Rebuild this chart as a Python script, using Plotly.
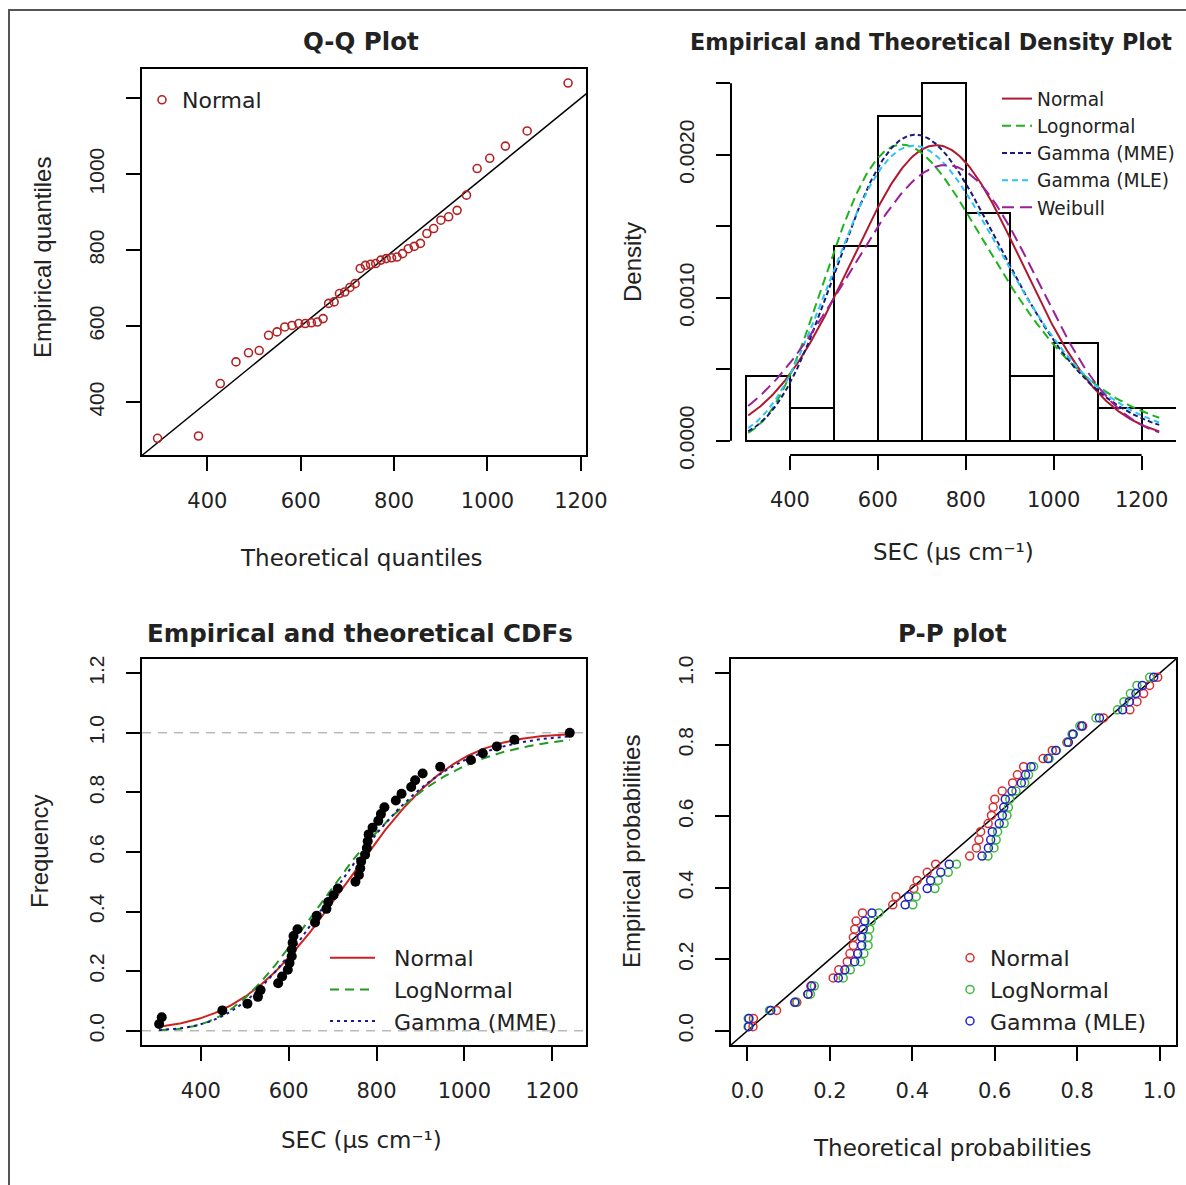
import math
import plotly.graph_objects as go

# ---------------- data ----------------
# 44 SEC observations (µs cm-1), read from the Q-Q plot / histogram
sec_values = [305, 311, 449, 506, 530, 536, 576, 585, 598, 602,
              607, 607, 609, 611, 620, 660, 664, 686, 690, 702,
              712, 752, 760, 763, 765, 774, 778, 780, 782, 791,
              804, 810, 818, 844, 857, 879, 888, 905, 945, 1015,
              1042, 1074, 1114, 1240]

# fitted distribution parameters (estimated from the curves in the picture)
norm_mean, norm_sd = 733.0, 193.0
lnorm_meanlog, lnorm_sdlog = 6.563, 0.283
gamma_mme_shape, gamma_mme_rate = 14.68, 0.01997
gamma_mle_shape, gamma_mle_rate = 13.57, 0.01846
weib_shape, weib_scale = 4.1, 808.0

sec_ticks = [400, 600, 800, 1000, 1200]
qq_yticks = [400, 600, 800, 1000]
qq_yminor = [1200]
dens_ticks = [0.0, 0.0010, 0.0020]
dens_text = ["0.0000", "0.0010", "0.0020"]
dens_minor = [0.0005, 0.0015, 0.0025]
cdf_ticks = [0.0, 0.2, 0.4, 0.6, 0.8, 1.0, 1.2]
cdf_text = ["0.0", "0.2", "0.4", "0.6", "0.8", "1.0", "1.2"]
prob_ticks = [0.0, 0.2, 0.4, 0.6, 0.8, 1.0]
prob_text = ["0.0", "0.2", "0.4", "0.6", "0.8", "1.0"]

# ---------------- distribution functions ----------------
SQ2PI = math.sqrt(2 * math.pi)

def norm_pdf(x, m, s):
    return math.exp(-0.5 * ((x - m) / s) ** 2) / (s * SQ2PI)

def norm_cdf(x, m, s):
    return 0.5 * (1 + math.erf((x - m) / (s * math.sqrt(2))))

def norm_ppf(p, m, s):
    lo, hi = m - 10 * s, m + 10 * s
    for _ in range(100):
        mid = 0.5 * (lo + hi)
        if norm_cdf(mid, m, s) < p:
            lo = mid
        else:
            hi = mid
    return 0.5 * (lo + hi)

def lnorm_pdf(x, ml, sl):
    return norm_pdf(math.log(x), ml, sl) / x

def lnorm_cdf(x, ml, sl):
    return norm_cdf(math.log(x), ml, sl)

def gamma_pdf(x, k, r):
    return math.exp(k * math.log(r) + (k - 1) * math.log(x) - r * x - math.lgamma(k))

def gamma_cdf(x, k, r):
    z = x * r
    term = 1.0 / k
    s = term
    for n in range(1, 500):
        term *= z / (k + n)
        s += term
        if term < 1e-14 * s:
            break
    return math.exp(k * math.log(z) - z - math.lgamma(k)) * s

def weib_pdf(x, k, lam):
    return (k / lam) * (x / lam) ** (k - 1) * math.exp(-((x / lam) ** k))

data = sorted(sec_values)
n = len(data)
ppts = [(i + 0.5) / n for i in range(n)]
ecdf = [(i + 1) / n for i in range(n)]
qq_theo = [norm_ppf(p, norm_mean, norm_sd) for p in ppts]

lo, hi = data[0], data[-1]
grid = [lo + (hi - lo) * i / 300 for i in range(301)]

# ---------------- geometry ----------------
W, H = 1186, 1185
def fx(px):
    return px / W
def fy(py):
    return 1 - py / H

XA = [fx(142), fx(586)]
XB = [fx(731), fx(1176)]
YT = [fy(455), fy(69)]
YB = [fy(1045), fy(659)]

rngA_x, rngA_y = [260, 1211], [261, 1277]
rngB_x, rngB_y = [265.9, 1278.2], [-0.0001, 0.0026]
rngC_x, rngC_y = [266, 1277], [-0.048, 1.248]
rngD = [-0.04, 1.04]

def frac(v, rng):
    return (v - rng[0]) / (rng[1] - rng[0])

HFONT = "DejaVu Sans"
VFONT = "Liberation Sans"
TXT = "#222222"
NB = "\u00a0"

fig = go.Figure()

# ---- Q-Q plot ----
fig.add_trace(go.Scatter(x=[200, 1300], y=[200, 1300], mode="lines",
                         line=dict(color="black", width=1.5), showlegend=False,
                         hoverinfo="skip", xaxis="x", yaxis="y"))
fig.add_trace(go.Scatter(x=qq_theo, y=data, mode="markers", name="Normal",
                         marker=dict(symbol="circle-open", size=8, color="#B22222",
                                     line=dict(width=1.6)),
                         xaxis="x", yaxis="y", legend="legend"))

# ---- density plot ----
fig.add_trace(go.Histogram(x=sec_values, xbins=dict(start=300, end=1300, size=100),
                           histnorm="probability density", autobinx=False,
                           marker=dict(color="white", line=dict(color="black", width=2)),
                           showlegend=False, xaxis="x2", yaxis="y2"))
dens_series = [
    ("Normal", [norm_pdf(x, norm_mean, norm_sd) for x in grid], "#B0182F", "solid"),
    ("Lognormal", [lnorm_pdf(x, lnorm_meanlog, lnorm_sdlog) for x in grid], "#1FB31F", "9px,5px"),
    ("Gamma (MME)", [gamma_pdf(x, gamma_mme_shape, gamma_mme_rate) for x in grid], "#1A1A7A", "5px,3px"),
    ("Gamma (MLE)", [gamma_pdf(x, gamma_mle_shape, gamma_mle_rate) for x in grid], "#2EC4F0", "6px,4px"),
    ("Weibull", [weib_pdf(x, weib_shape, weib_scale) for x in grid], "#9A1F9A", "12px,6px"),
]
for name, ys, col, dash in dens_series:
    fig.add_trace(go.Scatter(x=grid, y=ys, mode="lines", name=name,
                             line=dict(color=col, width=2, dash=dash),
                             xaxis="x2", yaxis="y2", legend="legend2"))

# ---- CDF plot ----
cdf_series = [
    ("Normal", [norm_cdf(x, norm_mean, norm_sd) for x in grid], "#CC2222", "solid"),
    ("LogNormal", [lnorm_cdf(x, lnorm_meanlog, lnorm_sdlog) for x in grid], "#229922", "9px,6px"),
    ("Gamma (MME)", [gamma_cdf(x, gamma_mme_shape, gamma_mme_rate) for x in grid], "#1A1A90", "3px,4px"),
]
for name, ys, col, dash in cdf_series:
    fig.add_trace(go.Scatter(x=grid, y=ys, mode="lines", name=NB * 2 + name,
                             line=dict(color=col, width=2, dash=dash),
                             xaxis="x3", yaxis="y3", legend="legend3"))
fig.add_trace(go.Scatter(x=data, y=ecdf, mode="markers", showlegend=False,
                         marker=dict(color="black", size=10), xaxis="x3", yaxis="y3"))

# ---- P-P plot ----
fig.add_trace(go.Scatter(x=[-0.1, 1.1], y=[-0.1, 1.1], mode="lines",
                         line=dict(color="black", width=1.5), showlegend=False,
                         hoverinfo="skip", xaxis="x4", yaxis="y4"))
pp_series = [
    ("Normal", [norm_cdf(x, norm_mean, norm_sd) for x in data], "#D83030"),
    ("LogNormal", [lnorm_cdf(x, lnorm_meanlog, lnorm_sdlog) for x in data], "#3DB83D"),
    ("Gamma (MLE)", [gamma_cdf(x, gamma_mle_shape, gamma_mle_rate) for x in data], "#2222CC"),
]
for name, xs, col in pp_series:
    fig.add_trace(go.Scatter(x=xs, y=ppts, mode="markers", name=name,
                             marker=dict(symbol="circle-open", size=8, color=col,
                                         line=dict(width=1.5)),
                             xaxis="x4", yaxis="y4", legend="legend4"))

# ---------------- axes ----------------
TICK = dict(ticks="outside", ticklen=14, tickwidth=2, tickcolor="black")

def xax(domain, rng, tv, tt, anchor, box=True):
    return dict(domain=domain, range=rng, tickvals=tv, ticktext=tt, anchor=anchor,
                showline=box, mirror=box, linewidth=2, linecolor="black",
                showgrid=False, zeroline=False, ticklabelstandoff=12, automargin=False,
                tickfont=dict(family=HFONT, size=21, color=TXT), fixedrange=True, **TICK)

def yax(domain, rng, tv, tt, anchor, box=True, minor_vals=None):
    d = dict(domain=domain, range=rng, tickvals=tv, ticktext=tt, anchor=anchor,
             showline=box, mirror=box, linewidth=2, linecolor="black",
             showgrid=False, zeroline=False, tickangle=-90, ticklabelstandoff=14,
             automargin=False,
             tickfont=dict(family=VFONT, size=21, color=TXT), fixedrange=True, **TICK)
    if minor_vals:
        d["minor"] = dict(tickmode="array", tickvals=minor_vals, showgrid=False, **TICK)
    return d

layout = dict(
    width=W, height=H, autosize=False,
    margin=dict(l=0, r=0, t=0, b=0, autoexpand=False),
    paper_bgcolor="white", plot_bgcolor="white",
    bargap=0,
    xaxis=xax(XA, rngA_x, sec_ticks, [str(v) for v in sec_ticks], "y"),
    yaxis=yax(YT, rngA_y, qq_yticks, [str(v) for v in qq_yticks], "x", minor_vals=qq_yminor),
    xaxis2=xax(XB, rngB_x, sec_ticks, [str(v) for v in sec_ticks], "y2", box=False),
    yaxis2=yax(YT, rngB_y, dens_ticks, dens_text, "x2", box=False, minor_vals=dens_minor),
    xaxis3=xax(XA, rngC_x, sec_ticks, [str(v) for v in sec_ticks], "y3"),
    yaxis3=yax(YB, rngC_y, cdf_ticks, cdf_text, "x3"),
    xaxis4=xax(XB, rngD, prob_ticks, prob_text, "y4"),
    yaxis4=yax(YB, rngD, prob_ticks, prob_text, "x4"),
)

def leg(x, y, size, iw=30):
    return dict(x=x, y=y, xanchor="left", yanchor="top", bgcolor="rgba(0,0,0,0)",
                borderwidth=0, itemwidth=iw, tracegroupgap=0,
                font=dict(family=HFONT, size=size, color=TXT))

layout["legend"] = leg(fx(142), fy(79), 22)
layout["legend2"] = leg(fx(997), fy(80), 18.6)
layout["legend3"] = leg(fx(325), fy(937), 22, iw=45)
layout["legend4"] = leg(fx(950), fy(937), 22)

# ---------------- shapes ----------------
shapes = [
    dict(type="rect", xref="paper", yref="paper", x0=fx(9), x1=1.05, y0=-0.05, y1=fy(10),
         line=dict(color="#555555", width=2), fillcolor="rgba(0,0,0,0)", layer="below"),
    # density plot axis lines (R style, between first and last tick)
    dict(type="line", xref="x2 domain", yref="y2 domain", x0=0, x1=0,
         y0=frac(0, rngB_y), y1=frac(0.0025, rngB_y), line=dict(color="black", width=2)),
    dict(type="line", xref="x2 domain", yref="y2 domain", y0=0, y1=0,
         x0=frac(400, rngB_x), x1=frac(1200, rngB_x), line=dict(color="black", width=2)),
]
for v in (0, 1):
    shapes.append(dict(type="line", xref="x3 domain", yref="y3 domain", x0=0, x1=1,
                       y0=frac(v, rngC_y), y1=frac(v, rngC_y), layer="below",
                       line=dict(color="#BBBBBB", width=1.5, dash="9px,7px")))
layout["shapes"] = shapes

# ---------------- titles ----------------
def ann(text, px, py, size, family=HFONT, angle=0, bold=False):
    t = "<b>%s</b>" % text if bold else text
    return dict(text=t, x=fx(px), y=fy(py), xref="paper", yref="paper",
                xanchor="center", yanchor="middle", showarrow=False, textangle=angle,
                font=dict(family=family, size=size, color=TXT))

sec_label = "SEC (µs cm\u207b\u00b9)"
layout["annotations"] = [
    ann("Q-Q Plot", 361, 42, 24.5, bold=True),
    ann("Empirical and Theoretical Density Plot", 931, 42, 22.3, bold=True),
    ann("Empirical and theoretical CDFs", 360, 633, 24.5, bold=True),
    ann("P-P plot", 952, 633, 24.5, bold=True),
    ann("Theoretical quantiles", 362, 558, 23),
    ann("Empirical quantiles", 42, 258, 24, family=VFONT, angle=-90),
    ann("Density", 632, 262, 24, family=VFONT, angle=-90),
    ann(sec_label, 953, 552, 23),
    ann("Frequency", 40, 852, 24, family=VFONT, angle=-90),
    ann(sec_label, 362, 1140, 23),
    ann("Empirical probabilities", 632, 852, 24, family=VFONT, angle=-90),
    ann("Theoretical probabilities", 952, 1148, 23),
]

fig.update_layout(**layout)
fig.write_html("out.html")
